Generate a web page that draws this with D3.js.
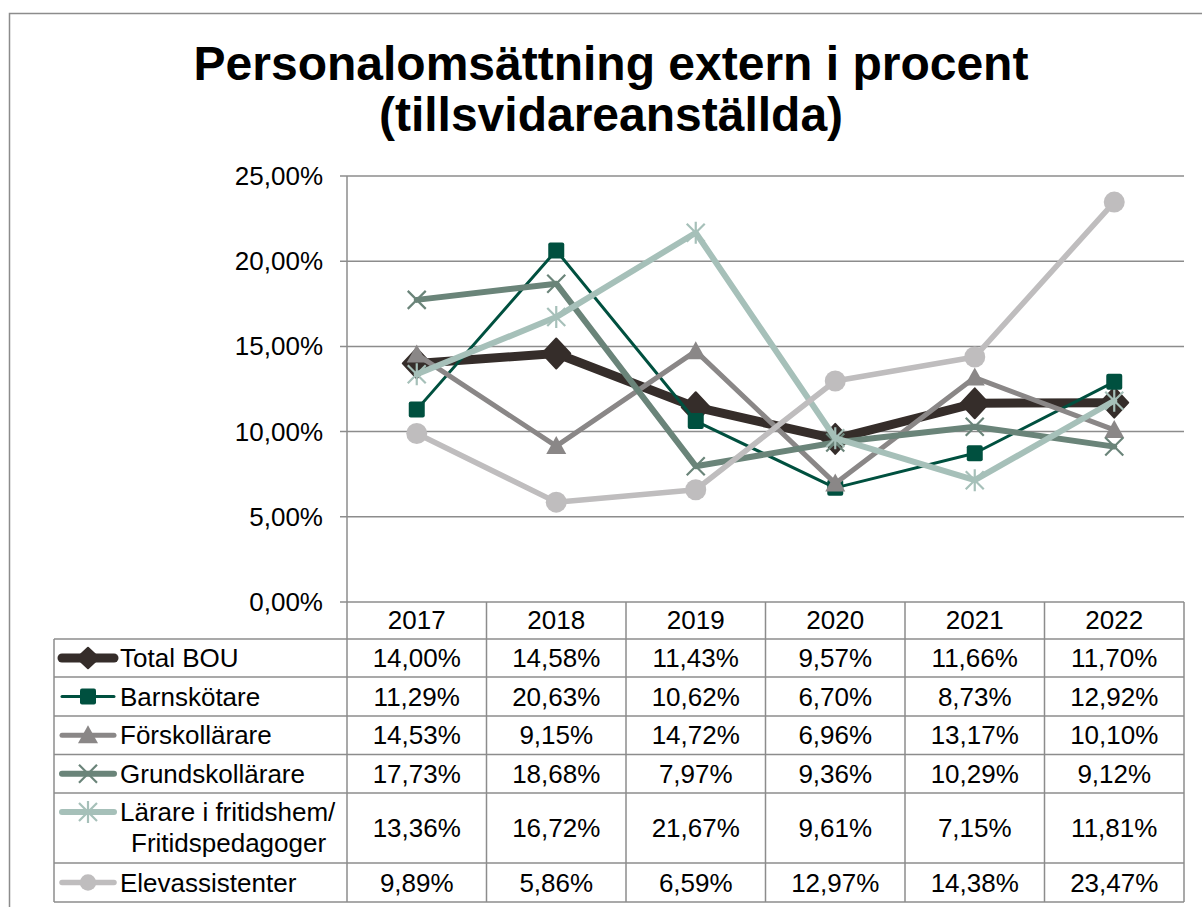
<!DOCTYPE html>
<html>
<head>
<meta charset="utf-8">
<script src="https://cdn.jsdelivr.net/npm/d3@7"></script>
<style>
  body { margin: 0; background: #fff; }
  svg { display: block; font-family: "Liberation Sans", Arial, sans-serif; }
</style>
</head>
<body>
<div id="chart"></div>
<script>
"use strict";

const years = ["2017", "2018", "2019", "2020", "2021", "2022"];
const seriesNames = ["Total BOU", "Barnskötare", "Förskollärare", "Grundskollärare", "Lärare i fritidshem/\nFritidspedagoger", "Elevassistenter"];
const totalBou = [14.00, 14.58, 11.43, 9.57, 11.66, 11.70];
const barnskotare = [11.29, 20.63, 10.62, 6.70, 8.73, 12.92];
const forskollarare = [14.53, 9.15, 14.72, 6.96, 13.17, 10.10];
const grundskollarare = [17.73, 18.68, 7.97, 9.36, 10.29, 9.12];
const lararFritids = [13.36, 16.72, 21.67, 9.61, 7.15, 11.81];
const elevassistenter = [9.89, 5.86, 6.59, 12.97, 14.38, 23.47];
const yTicks = [0, 5, 10, 15, 20, 25];

const seriesValues = [totalBou, barnskotare, forskollarare, grundskollarare, lararFritids, elevassistenter];
const styles = [
  { color: "#352d2a", width: 9, marker: "diamond" },
  { color: "#00503f", width: 3, marker: "square" },
  { color: "#8a8787", width: 5, marker: "triangle" },
  { color: "#6a8479", width: 6, marker: "x" },
  { color: "#a6c0b9", width: 6, marker: "star" },
  { color: "#bfbdbe", width: 5.5, marker: "circle" }
];

const locale = d3.formatLocale({ decimal: ",", thousands: " ", grouping: [3], currency: ["", ""] });
const fmt = v => locale.format(".2f")(v) + "%";

const W = 1202, H = 907;
const plot = { left: 347, right: 1184, top: 176, bottom: 602 };
const gridColor = "#8c8c8c";
const rowEdges = [602, 639, 677, 716, 754.5, 793, 863, 902];
const tableLeft = 54;

const svg = d3.select("#chart").append("svg")
  .attr("width", W)
  .attr("height", H);

// outer frame
svg.append("rect")
  .attr("x", 9.5).attr("y", 13.5)
  .attr("width", 1400).attr("height", 1200)
  .attr("fill", "none")
  .attr("stroke", gridColor)
  .attr("stroke-width", 1.5);

// title
svg.append("text")
  .attr("x", 611).attr("y", 80)
  .attr("text-anchor", "middle")
  .style("font-size", "48px").style("font-weight", "bold")
  .text("Personalomsättning extern i procent");
svg.append("text")
  .attr("x", 611).attr("y", 131)
  .attr("text-anchor", "middle")
  .style("font-size", "48px").style("font-weight", "bold")
  .text("(tillsvidareanställda)");

const x = d3.scaleBand().domain(years).range([plot.left, plot.right]);
const y = d3.scaleLinear().domain([0, 25]).range([plot.bottom, plot.top]);

// gridlines + ticks
yTicks.forEach(t => {
  svg.append("line")
    .attr("x1", plot.left - 7).attr("x2", plot.right)
    .attr("y1", y(t)).attr("y2", y(t))
    .attr("stroke", gridColor).attr("stroke-width", 1.5);
  svg.append("text")
    .attr("x", 323).attr("y", y(t) + 9)
    .attr("text-anchor", "end")
    .style("font-size", "26px")
    .text(fmt(t));
});

// y axis line (continues through the table)
svg.append("line")
  .attr("x1", plot.left).attr("x2", plot.left)
  .attr("y1", plot.top).attr("y2", rowEdges[rowEdges.length - 1])
  .attr("stroke", gridColor).attr("stroke-width", 1.5);

// table grid
years.forEach((yr, i) => {
  const xr = x(yr) + x.bandwidth();
  svg.append("line")
    .attr("x1", xr).attr("x2", xr)
    .attr("y1", plot.bottom).attr("y2", rowEdges[rowEdges.length - 1])
    .attr("stroke", gridColor).attr("stroke-width", 1.5);
  svg.append("text")
    .attr("x", x(yr) + x.bandwidth() / 2).attr("y", 629)
    .attr("text-anchor", "middle")
    .style("font-size", "26px")
    .text(yr);
});
rowEdges.slice(1).forEach(ry => {
  svg.append("line")
    .attr("x1", tableLeft).attr("x2", plot.right)
    .attr("y1", ry).attr("y2", ry)
    .attr("stroke", gridColor).attr("stroke-width", 1.5);
});
svg.append("line")
  .attr("x1", tableLeft).attr("x2", tableLeft)
  .attr("y1", rowEdges[1]).attr("y2", rowEdges[rowEdges.length - 1])
  .attr("stroke", gridColor).attr("stroke-width", 1.5);

// k = scale factor (legend keys use smaller diamond / circle)
function drawMarker(g, type, cx, cy, color, k = 1) {
  if (type === "diamond") {
    const w = 14 * k, h = 15 * (k < 1 ? 0.68 : 1);
    g.append("path")
      .attr("d", `M${cx},${cy - h}L${cx + w},${cy}L${cx},${cy + h}L${cx - w},${cy}Z`)
      .attr("fill", color).attr("stroke", color).attr("stroke-width", 2).attr("stroke-linejoin", "round");
  } else if (type === "square") {
    g.append("rect")
      .attr("x", cx - 8).attr("y", cy - 8).attr("width", 16).attr("height", 16)
      .attr("rx", 2).attr("fill", color);
  } else if (type === "triangle") {
    g.append("path")
      .attr("d", `M${cx},${cy - 10}L${cx + 10},${cy + 8}L${cx - 10},${cy + 8}Z`)
      .attr("fill", color);
  } else if (type === "x") {
    g.append("path")
      .attr("d", `M${cx - 9},${cy - 9}L${cx + 9},${cy + 9}M${cx + 9},${cy - 9}L${cx - 9},${cy + 9}`)
      .attr("stroke", color).attr("stroke-width", 2.2).attr("fill", "none");
  } else if (type === "star") {
    g.append("path")
      .attr("d", `M${cx - 9},${cy - 9}L${cx + 9},${cy + 9}M${cx + 9},${cy - 9}L${cx - 9},${cy + 9}M${cx},${cy - 11}L${cx},${cy + 11}`)
      .attr("stroke", color).attr("stroke-width", 2.2).attr("fill", "none");
  } else if (type === "circle") {
    g.append("circle")
      .attr("cx", cx).attr("cy", cy).attr("r", 10.5 * k)
      .attr("fill", color);
  }
}

// series lines
const line = d3.line()
  .x((d, i) => x(years[i]) + x.bandwidth() / 2)
  .y(d => y(d));

seriesValues.forEach((vals, s) => {
  const st = styles[s];
  const g = svg.append("g");
  g.append("path")
    .datum(vals)
    .attr("d", line)
    .attr("fill", "none")
    .attr("stroke", st.color)
    .attr("stroke-width", st.width)
    .attr("stroke-linejoin", "round")
    .attr("stroke-linecap", "round");
  vals.forEach((v, i) => {
    drawMarker(g, st.marker, x(years[i]) + x.bandwidth() / 2, y(v), st.color);
  });
});

// table rows: legend key, name, values
seriesValues.forEach((vals, s) => {
  const st = styles[s];
  const top = rowEdges[s + 1], bottom = rowEdges[s + 2];
  const mid = (top + bottom) / 2;
  const lines = seriesNames[s].split("\n");
  const keyY = lines.length > 1 ? 812 : mid;
  const g = svg.append("g");
  g.append("line")
    .attr("x1", 62).attr("x2", 114)
    .attr("y1", keyY).attr("y2", keyY)
    .attr("stroke", st.color).attr("stroke-width", st.width)
    .attr("stroke-linecap", "round");
  drawMarker(g, st.marker, 88, keyY, st.color, 0.78);
  if (lines.length > 1) {
    g.append("text").attr("x", 120).attr("y", 821).style("font-size", "26px").text(lines[0]);
    g.append("text").attr("x", 131).attr("y", 852).style("font-size", "26px").text(lines[1]);
  } else {
    g.append("text").attr("x", 120).attr("y", mid + 9).style("font-size", "26px").text(lines[0]);
  }
  vals.forEach((v, i) => {
    g.append("text")
      .attr("x", x(years[i]) + x.bandwidth() / 2)
      .attr("y", mid + 9)
      .attr("text-anchor", "middle")
      .style("font-size", "26px")
      .text(fmt(v));
  });
});
</script>
</body>
</html>
